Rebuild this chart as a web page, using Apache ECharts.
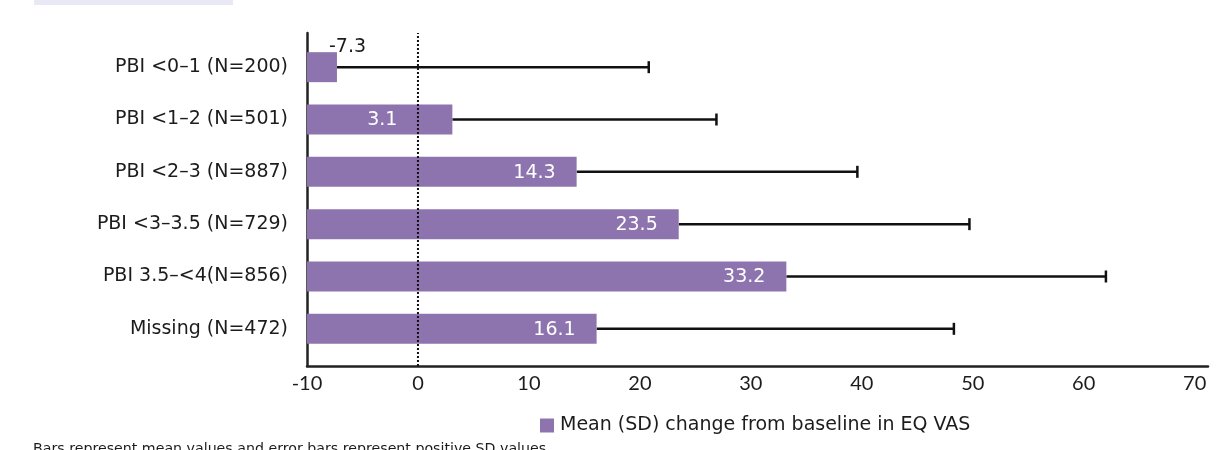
<!DOCTYPE html>
<html>
<head>
<meta charset="utf-8">
<script src="https://cdn.jsdelivr.net/npm/echarts@6/dist/echarts.min.js"></script>
<style>
html,body{margin:0;padding:0;background:#fff;}
#chart{width:1217px;height:450px;}
</style>
</head>
<body>
<div id="chart"></div>
<script>
const categories = ['PBI <0–1 (N=200)', 'PBI <1–2 (N=501)', 'PBI <2–3 (N=887)', 'PBI <3–3.5 (N=729)', 'PBI 3.5–<4(N=856)', 'Missing (N=472)'];
const means = [-7.3, 3.1, 14.3, 23.5, 33.2, 16.1];
const sds = [28.1, 23.8, 25.3, 26.2, 28.8, 32.2];
const xTicks = [-10, 0, 10, 20, 30, 40, 50, 60, 70];
const seriesName = 'Mean (SD) change from baseline in EQ VAS';
const footnote = 'Bars represent mean values and error bars represent positive SD values';

const FONT = '"DejaVu Sans", sans-serif';
const TICK_FONT = 'Lato, sans-serif';
const BAR_COLOR = '#8e74ae';
const TEXT_COLOR = '#1c1c1c';
const X_MIN = xTicks[0];
const X_MAX = 71.2;
const labelInset = {1: 55};

const chart = echarts.init(document.getElementById('chart'), null, {renderer: 'canvas'});

const option = {
  animation: false,
  backgroundColor: '#fff',
  textStyle: {fontFamily: FONT},
  graphic: [
    {type: 'rect', left: 34, top: 0, shape: {width: 199, height: 5}, style: {fill: '#e9e9f5'}},
    {type: 'text', left: 33, top: 442, style: {text: footnote, font: '14.2px ' + FONT, fill: TEXT_COLOR}}
  ],
  legend: {
    data: [seriesName],
    left: 535,
    top: 411,
    icon: 'rect',
    itemWidth: 14,
    itemHeight: 14,
    textStyle: {fontSize: 19, color: TEXT_COLOR, fontFamily: FONT, padding: [0,0,0,1]}
  },
  grid: [
    {left: 307, right: 9, top: 33, bottom: 84, containLabel: false},
    {left: 307, right: 9, top: 41, height: 314, containLabel: false}
  ],
  xAxis: [
    {
      type: 'value', gridIndex: 0, min: X_MIN, max: X_MAX, interval: 10,
      axisLine: {show: true, onZero: false, lineStyle: {color: '#222', width: 2.5}},
      axisTick: {show: false},
      splitLine: {show: false},
      axisLabel: {show: true, fontSize: 20, color: TEXT_COLOR, margin: 8, fontFamily: TICK_FONT, showMaxLabel: false,
        formatter: v => xTicks.indexOf(v) >= 0 ? String(v) : ''}
    },
    {
      type: 'value', gridIndex: 1, min: X_MIN, max: X_MAX, show: false
    }
  ],
  yAxis: [
    {
      type: 'value', gridIndex: 0, min: 0, max: 1,
      axisLine: {show: true, onZero: false, lineStyle: {color: '#222', width: 2.5}},
      axisTick: {show: false}, axisLabel: {show: false}, splitLine: {show: false}
    },
    {
      type: 'category', gridIndex: 1, data: categories, inverse: true,
      axisLine: {show: false}, axisTick: {show: false}, splitLine: {show: false},
      axisLabel: {fontSize: 19, color: TEXT_COLOR, margin: 19, fontFamily: FONT}
    }
  ],
  series: [
    {
      type: 'custom',
      name: 'zero',
      xAxisIndex: 0, yAxisIndex: 0,
      silent: true,
      data: [[0]],
      renderItem: function (params, api) {
        const a = api.coord([api.value(0), 0]);
        const b = api.coord([api.value(0), 1]);
        return {type: 'line', shape: {x1: a[0], y1: a[1], x2: b[0], y2: b[1]},
          style: {stroke: '#111', lineWidth: 2, lineDash: [2, 2]}};
      },
      z: 3
    },
    {
      type: 'custom',
      name: seriesName,
      xAxisIndex: 1, yAxisIndex: 1,
      itemStyle: {color: BAR_COLOR},
      encode: {x: 1, y: 0},
      data: means.map((m, i) => [i, m]),
      renderItem: function (params, api) {
        const idx = api.value(0);
        const val = api.value(1);
        const start = api.coord([X_MIN, idx]);
        const end = api.coord([val, idx]);
        const h = api.size([0, 1])[1] * 0.573;
        const top = start[1] - h / 2;
        const children = [{
          type: 'rect',
          shape: {x: start[0], y: top, width: end[0] - start[0], height: h},
          style: {fill: BAR_COLOR}
        }];
        const txt = String(val);
        if (val < 0) {
          children.push({type: 'text', style: {text: txt, x: end[0] - 8, y: top + 4, align: 'left', verticalAlign: 'bottom', font: '19px ' + FONT, fill: TEXT_COLOR}});
        } else {
          const inset = labelInset[idx] !== undefined ? labelInset[idx] : 21;
          children.push({type: 'text', style: {text: txt, x: end[0] - inset, y: start[1] + 1, align: 'right', verticalAlign: 'middle', font: '19px ' + FONT, fill: '#fff'}});
        }
        return {type: 'group', children: children};
      },
      z: 2
    },
    {
      type: 'custom',
      name: 'SD',
      xAxisIndex: 1, yAxisIndex: 1,
      silent: true,
      data: means.map((m, i) => [i, m, m + sds[i]]),
      renderItem: function (params, api) {
        const idx = api.value(0);
        const a = api.coord([api.value(1), idx]);
        const b = api.coord([api.value(2), idx]);
        const cap = 6;
        const st = {stroke: '#111', lineWidth: 2.5};
        return {type: 'group', children: [
          {type: 'line', shape: {x1: a[0], y1: a[1], x2: b[0], y2: b[1]}, style: st},
          {type: 'line', shape: {x1: b[0], y1: b[1] - cap, x2: b[0], y2: b[1] + cap}, style: st}
        ]};
      },
      z: 1
    }
  ]
};
chart.setOption(option);
</script>
</body>
</html>
